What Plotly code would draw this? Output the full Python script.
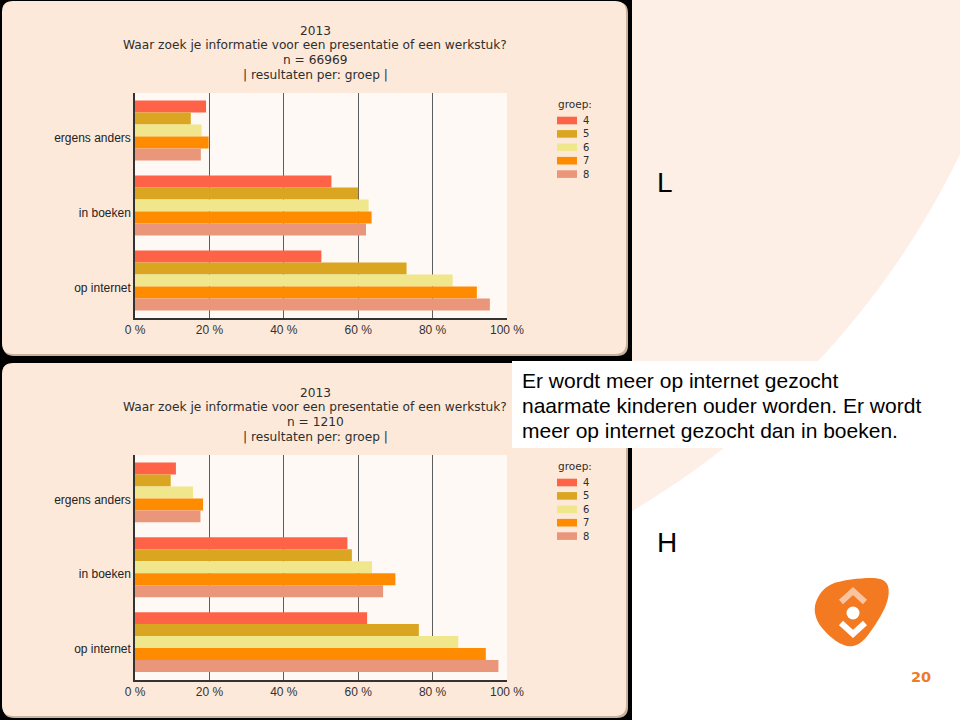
import plotly.graph_objects as go

W, H = 960, 720


def px(x):
    return x / W


def py(y):
    return 1 - y / H


# ---------------- data ----------------
categories = ["ergens anders", "in boeken", "op internet"]
groups = ["4", "5", "6", "7", "8"]
group_colors = ["#ff6347", "#daa520", "#f0e68c", "#ff8c00", "#e9967a"]
x_tickvals = [0, 20, 40, 60, 80, 100]
x_ticktext = ["0 %", "20 %", "40 %", "60 %", "80 %", "100 %"]

title_year = "2013"
title_question = "Waar zoek je informatie voor een presentatie of een werkstuk?"
title_group = "| resultaten per: groep |"

# chart L (top), n = 66969
l_n = 66969
l_groep4 = [19.1, 52.8, 50.1]
l_groep5 = [15.0, 60.0, 73.0]
l_groep6 = [17.9, 62.8, 85.4]
l_groep7 = [19.8, 63.6, 91.9]
l_groep8 = [17.7, 62.1, 95.4]

# chart H (bottom), n = 1210
h_n = 1210
h_groep4 = [11.0, 57.1, 62.4]
h_groep5 = [9.6, 58.3, 76.3]
h_groep6 = [15.6, 63.7, 86.9]
h_groep7 = [18.3, 70.0, 94.3]
h_groep8 = [17.6, 66.7, 97.7]

summary_lines = [
    "Er wordt meer op internet gezocht",
    "naarmate kinderen ouder worden. Er wordt",
    "meer op internet gezocht dan in boeken.",
]
page_number = "20"

# ---------------- traces ----------------
fig = go.Figure()
charts = [
    ("x", "y", [l_groep4, l_groep5, l_groep6, l_groep7, l_groep8]),
    ("x2", "y2", [h_groep4, h_groep5, h_groep6, h_groep7, h_groep8]),
]
for xr, yr, series in charts:
    for name, col, vals in zip(groups, group_colors, series):
        fig.add_trace(go.Bar(
            x=vals, y=categories, orientation="h", name=name,
            marker=dict(color=col, line=dict(width=0)),
            xaxis=xr, yaxis=yr, showlegend=False,
            hovertemplate="groep " + name + ": %{x:.1f} %<extra></extra>",
        ))

# ---------------- decoration helpers ----------------
def rrect(x0, y0, x1, y1, r):
    return (f"M{px(x0 + r)},{py(y0)} L{px(x1 - r)},{py(y0)} "
            f"Q{px(x1)},{py(y0)} {px(x1)},{py(y0 + r)} "
            f"L{px(x1)},{py(y1 - r)} Q{px(x1)},{py(y1)} {px(x1 - r)},{py(y1)} "
            f"L{px(x0 + r)},{py(y1)} Q{px(x0)},{py(y1)} {px(x0)},{py(y1 - r)} "
            f"L{px(x0)},{py(y0 + r)} Q{px(x0)},{py(y0)} {px(x0 + r)},{py(y0)} Z")


def smooth_closed(points):
    n = len(points)
    d = f"M{px(points[0][0])},{py(points[0][1])}"
    for i in range(n):
        p0 = points[(i - 1) % n]
        p1 = points[i]
        p2 = points[(i + 1) % n]
        p3 = points[(i + 2) % n]
        c1 = (p1[0] + (p2[0] - p0[0]) / 6, p1[1] + (p2[1] - p0[1]) / 6)
        c2 = (p2[0] - (p3[0] - p1[0]) / 6, p2[1] - (p3[1] - p1[1]) / 6)
        d += (f" C{px(c1[0])},{py(c1[1])} {px(c2[0])},{py(c2[1])} "
              f"{px(p2[0])},{py(p2[1])}")
    return d + " Z"


def polyline(points):
    return "M" + " L".join(f"{px(x)},{py(y)}" for x, y in points)


shapes = []
annotations = []

# big peach circle on the right
cx, cy, r = 200, -215, 845
shapes.append(dict(type="circle", xref="paper", yref="paper", layer="below",
                   x0=px(cx - r), x1=px(cx + r), y0=py(cy + r), y1=py(cy - r),
                   fillcolor="#fdefe6", line=dict(width=0)))
# black backdrop behind the two screenshots
shapes.append(dict(type="rect", xref="paper", yref="paper", layer="below",
                   x0=px(0), x1=px(632), y0=py(720), y1=py(0),
                   fillcolor="#000000", line=dict(width=0)))

offsets = [0, 362]
for dy in offsets:
    shapes.append(dict(type="path", xref="paper", yref="paper", layer="below",
                       path=rrect(3, 2 + dy, 628, 356 + dy, 11),
                       fillcolor="#c9b39e", line=dict(width=0)))
    shapes.append(dict(type="path", xref="paper", yref="paper", layer="below",
                       path=rrect(2, 1 + dy, 626, 354 + dy, 11),
                       fillcolor="#fde9d9", line=dict(width=0)))
    shapes.append(dict(type="rect", xref="paper", yref="paper", layer="below",
                       x0=px(135), x1=px(507), y0=py(318 + dy), y1=py(93 + dy),
                       fillcolor="#fef9f4", line=dict(width=0)))

# white text box
shapes.append(dict(type="rect", xref="paper", yref="paper", layer="below",
                   x0=px(512), x1=px(940), y0=py(448), y1=py(361),
                   fillcolor="#ffffff", line=dict(width=0)))

# logo
blob = [(832, 584), (870, 578), (887, 584), (886, 605), (868, 635),
        (853, 646), (836, 641), (818, 622), (816, 602)]
shapes.append(dict(type="path", xref="paper", yref="paper", layer="below",
                   path=smooth_closed(blob), fillcolor="#f47a22",
                   line=dict(width=0)))
shapes.append(dict(type="path", xref="paper", yref="paper", layer="below",
                   path=polyline([(841, 602), (853, 591), (865, 602)]),
                   line=dict(color="#f9c4a0", width=6)))
shapes.append(dict(type="circle", xref="paper", yref="paper", layer="below",
                   x0=px(846.5), x1=px(859.5), y0=py(619.5), y1=py(606.5),
                   fillcolor="#ffffff", line=dict(width=0)))
shapes.append(dict(type="path", xref="paper", yref="paper", layer="below",
                   path=polyline([(841, 623), (853, 634), (865, 623)]),
                   line=dict(color="#ffffff", width=6)))

# titles and legends of the two charts
title_font = dict(family="DejaVu Sans, Verdana, sans-serif", size=12.2, color="#2e2e2e")
for dy, n in zip(offsets, [l_n, h_n]):
    lines = [title_year, title_question, f"n = {n}", title_group]
    for txt, yy in zip(lines, [30.7, 45.0, 60.2, 75.0]):
        annotations.append(dict(text=txt, x=px(315), y=py(yy + dy),
                                xref="paper", yref="paper", xanchor="center",
                                yanchor="middle", showarrow=False, font=title_font))
    annotations.append(dict(text="groep:", x=px(556), y=py(104 + dy),
                            xref="paper", yref="paper", xanchor="left",
                            yanchor="middle", showarrow=False,
                            font=dict(family="DejaVu Sans, Verdana, sans-serif",
                                      size=10.5, color="#2e2e2e")))
    for i, (g, c) in enumerate(zip(groups, group_colors)):
        yc = 120.5 + 13.4 * i + dy
        shapes.append(dict(type="rect", xref="paper", yref="paper", layer="below",
                           x0=px(557), x1=px(577), y0=py(yc + 3.8), y1=py(yc - 3.8),
                           fillcolor=c, line=dict(width=0)))
        annotations.append(dict(text=g, x=px(581), y=py(yc), xref="paper",
                                yref="paper", xanchor="left", yanchor="middle",
                                showarrow=False,
                                font=dict(family="DejaVu Sans, Verdana, sans-serif",
                                          size=10, color="#2e2e2e")))

# slide texts
annotations.append(dict(text="L", x=px(655), y=py(182), xref="paper", yref="paper",
                        xanchor="left", yanchor="middle", showarrow=False,
                        font=dict(family="Arial, Liberation Sans", size=28, color="#000000")))
annotations.append(dict(text="H", x=px(655), y=py(542), xref="paper", yref="paper",
                        xanchor="left", yanchor="middle", showarrow=False,
                        font=dict(family="Arial, Liberation Sans", size=28, color="#000000")))
for txt, yy in zip(summary_lines, [380, 405, 430]):
    annotations.append(dict(text=txt, x=px(520), y=py(yy), xref="paper", yref="paper",
                            xanchor="left", yanchor="middle", showarrow=False,
                            font=dict(family="Arial, Liberation Sans", size=21,
                                      color="#000000")))
annotations.append(dict(text="<b>" + page_number + "</b>", x=px(921), y=py(677),
                        xref="paper", yref="paper", xanchor="center", yanchor="middle",
                        showarrow=False,
                        font=dict(family="DejaVu Sans, Verdana", size=14.5,
                                  color="#ee7b2a")))

# ---------------- axes ----------------
x_tick_font = dict(family="Arial, Liberation Sans", size=12, color="#333333")
y_tick_font = dict(family="Arial, Liberation Sans", size=12, color="#222222")


def xaxis(anchor, dom):
    return dict(domain=dom, anchor=anchor, range=[0, 100], tickvals=x_tickvals,
                ticktext=x_ticktext, showgrid=True, gridcolor="#5e5e5e",
                gridwidth=1.2, zeroline=False, showline=True, linecolor="#333333",
                linewidth=1.5, ticks="", tickfont=x_tick_font, fixedrange=True,
                automargin=False)


def yaxis(anchor, dom):
    return dict(domain=dom, anchor=anchor, autorange="reversed", showgrid=False,
                zeroline=False, showline=True, linecolor="#333333", linewidth=1.5,
                ticks="", tickfont=y_tick_font, ticklabelshift=-7, fixedrange=True,
                automargin=False)


fig.update_layout(
    template="none",
    width=W, height=H, margin=dict(l=0, r=0, t=0, b=0, pad=0, autoexpand=False),
    paper_bgcolor="#ffffff", plot_bgcolor="rgba(0,0,0,0)",
    barmode="group", bargap=0.2, bargroupgap=0, showlegend=False,
    xaxis=xaxis("y", [px(135), px(507)]),
    yaxis=yaxis("x", [py(318), py(93)]),
    xaxis2=xaxis("y2", [px(135), px(507)]),
    yaxis2=yaxis("x2", [py(679.5), py(455)]),
    shapes=shapes, annotations=annotations,
)

fig.write_html(
    "out.html",
    config={"displayModeBar": False},
    post_script="document.body.style.margin='0';document.body.style.overflow='hidden';",
)
